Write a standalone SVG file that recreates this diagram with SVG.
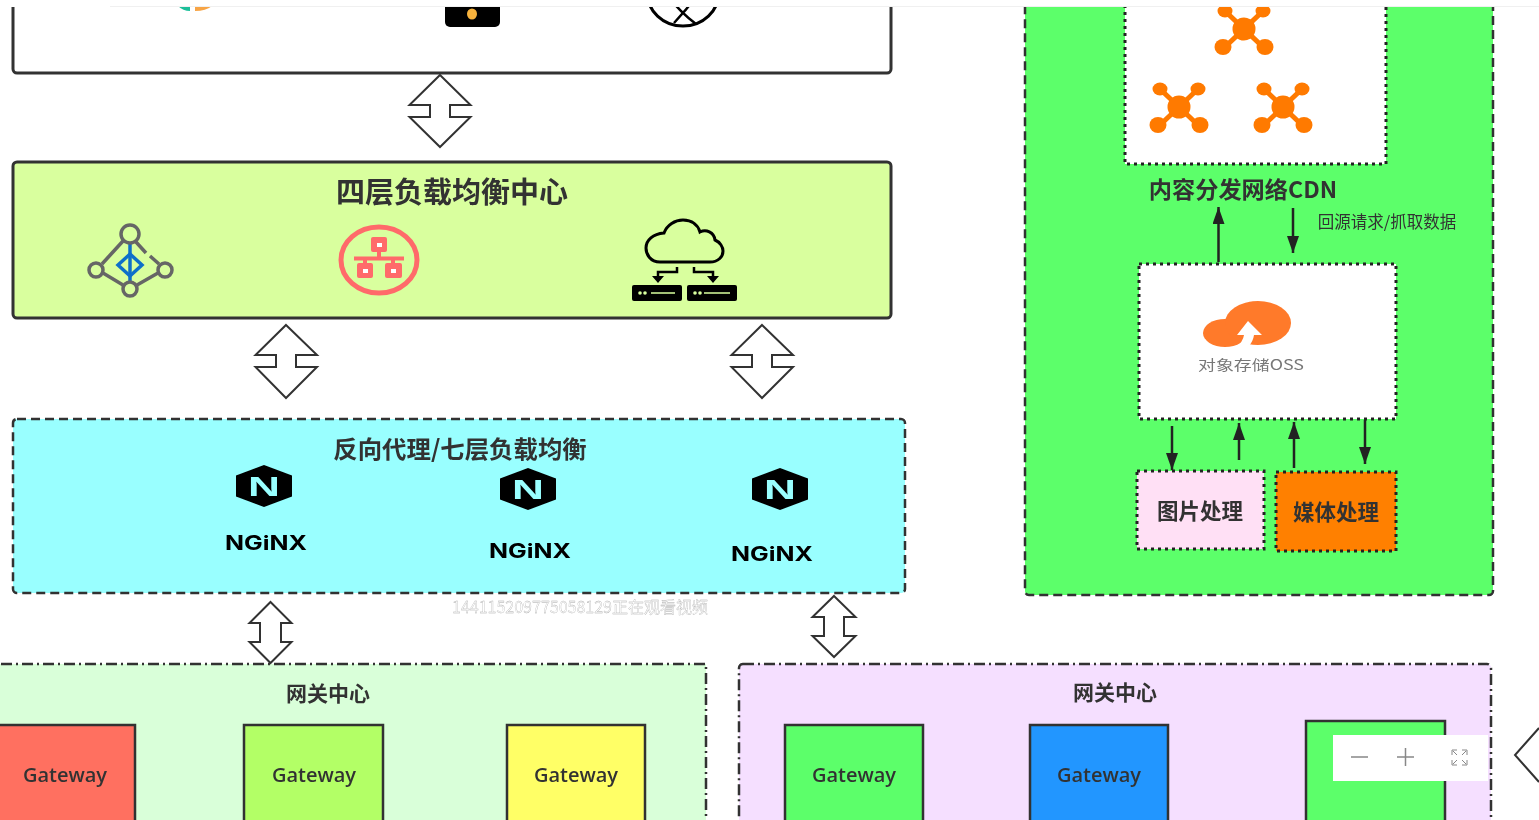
<svg xmlns="http://www.w3.org/2000/svg" width="1539" height="820" viewBox="0 0 1539 820">
<style>
text{font-family:"Noto Sans CJK SC","Noto Sans",sans-serif;fill:#333;text-anchor:middle}
.b{font-weight:700}
.box{stroke:#333;stroke-width:3}
.dash{stroke:#333;stroke-width:2.5;stroke-dasharray:9 5}
.dd{stroke:#333;stroke-width:2.5;stroke-dasharray:11 4 2 4}
.dot{stroke:#222;stroke-width:3;stroke-dasharray:3 4}
.gw{stroke:#333;stroke-width:2.5}
.gwt{font-family:"Open Sans",sans-serif;font-weight:600;font-size:20px}
.da{fill:#fff;stroke:#333;stroke-width:2;stroke-linejoin:miter}
.ln{stroke:#222;stroke-width:2.5;fill:none;marker-end:url(#ah)}
.ng{font-family:"Inter",sans-serif;font-weight:700;font-size:20px;fill:#000}
.nn{font-family:"Liberation Sans",sans-serif;font-weight:700;font-size:28px;fill:#99FFFF}
.or{fill:#FF7A00}
</style>
<defs>
<marker id="ah" markerUnits="userSpaceOnUse" markerWidth="17" markerHeight="12" refX="17" refY="6" orient="auto" viewBox="0 0 17 12"><path d="M0 0L17 6L0 12Z" fill="#222"/></marker>
<filter id="soft" filterUnits="userSpaceOnUse" x="0" y="0" width="1539" height="820"><feGaussianBlur stdDeviation="0.4"/></filter>
<g id="cdnNode">
<path d="M-19-18L19 18M19-18L-19 18" stroke="#FF7A00" stroke-width="5"/>
<circle r="11.5" class="or"/><ellipse cx="-19" cy="-18" rx="7.5" ry="6.500" class="or"/><ellipse cx="19" cy="-18" rx="7.5" ry="6.500" class="or"/><ellipse cx="-21" cy="18" rx="8.5" ry="8" class="or"/><ellipse cx="21" cy="18" rx="8.5" ry="8" class="or"/>
</g>
<g id="nginxLogo">
<polygon points="0,-21 28,-10.5 28,10.5 0,21 -28,10.5 -28,-10.5" fill="#000"/>
<text y="10" class="nn" textLength="32" lengthAdjust="spacingAndGlyphs">N</text>
</g>
</defs>
<g filter="url(#soft)">
<rect width="1539" height="820" fill="#fff"/>

<g id="top-box">
<rect x="13" y="-60" width="878" height="133" rx="4" fill="#fff" class="box"/>
<path d="M178 6Q183 11 190 11L190 6Z" fill="#1DBF9A"/><path d="M195 11Q206 11 212 6L195 6Z" fill="#F7A445"/>
<path d="M445 0H500V22a5 5 0 0 1-5 5H450a5 5 0 0 1-5-5Z" fill="#000"/><ellipse cx="472" cy="14" rx="5" ry="5.500" fill="#F7B23C"/>
<ellipse cx="683" cy="-8" rx="36" ry="34" fill="#fff" stroke="#000" stroke-width="3"/><path d="M668 -4Q680 12 696 24M697 -4Q686 10 674 23" fill="none" stroke="#000" stroke-width="2.5"/>
</g>

<g id="l4-center">
<rect x="13" y="162" width="878" height="156" rx="4" fill="#D9FF9E" class="box"/>
<text x="452" y="203" class="b" font-size="29">四层负载均衡中心</text>
<g id="l4-icon-a">
<path d="M123 241L102 264M136 242L146 253M150 256L159 264M103 273L123 285M158 273L137 285" stroke="#666" stroke-width="3.5" fill="none"/>
<path d="M130 244V282" stroke="#0F6FC9" stroke-width="3.5"/><path d="M130 254L142 265L130 276L118 265Z" fill="none" stroke="#0F6FC9" stroke-width="3.5"/>
<circle cx="130" cy="234" r="9" fill="#D9FF9E" stroke="#666" stroke-width="3.5"/><circle cx="96" cy="270" r="7" fill="#D9FF9E" stroke="#666" stroke-width="3.5"/><circle cx="165" cy="270" r="7" fill="#D9FF9E" stroke="#666" stroke-width="3.5"/><circle cx="130" cy="289" r="7" fill="#D9FF9E" stroke="#666" stroke-width="3.5"/>
</g>
<g id="l4-icon-b">
<ellipse cx="379" cy="260" rx="38" ry="33" fill="none" stroke="#FF6B6B" stroke-width="5"/>
<path d="M379 250V258M354 258.500H404M365 258V266M393 258V266" stroke="#FF6B6B" stroke-width="4" fill="none"/>
<rect x="371" y="237" width="16" height="15" rx="2" fill="#FF6B6B"/><rect x="357" y="263" width="16" height="15" rx="2" fill="#FF6B6B"/><rect x="385" y="263" width="17" height="15" rx="2" fill="#FF6B6B"/>
<rect x="377" y="243" width="5" height="4" fill="#fff"/><rect x="363" y="269" width="5" height="4" fill="#fff"/><rect x="391" y="269" width="5" height="4" fill="#fff"/>
</g>
<g id="l4-icon-c">
<path d="M660 262C650 262 646 254 646 248C646 240 653 234 664 233C667 225 675 220 683 220C692 220 698 225 700 232C706 229 714 232 715 240C720 242 723 247 723 251C723 257 718 262 710 262Z" fill="none" stroke="#000" stroke-width="3"/>
<path d="M677 267V272H658V278M694 267V272H713V278" fill="none" stroke="#000" stroke-width="2.5"/>
<path d="M652 276H664L658 283ZM707 276H719L713 283Z" fill="#000"/>
<rect x="632" y="285" width="50" height="16" rx="2" fill="#000"/><rect x="687" y="285" width="50" height="16" rx="2" fill="#000"/>
<path d="M651 293H675M704 293H730" stroke="#D9FF9E" stroke-width="1.500"/>
<circle cx="640" cy="293" r="1.800" fill="#D9FF9E"/><circle cx="645" cy="293" r="1.800" fill="#D9FF9E"/><circle cx="695" cy="293" r="1.800" fill="#D9FF9E"/><circle cx="700" cy="293" r="1.800" fill="#D9FF9E"/>
</g>
</g>

<g id="l7-proxy">
<rect x="13" y="419" width="892" height="174" rx="4" fill="#99FFFF" class="dash"/>
<text x="460" y="458" class="b" font-size="24.400">反向代理/七层负载均衡</text>
<use href="#nginxLogo" x="264" y="486"/><text x="266" y="550" class="ng" textLength="82" lengthAdjust="spacingAndGlyphs">NGiNX</text>
<use href="#nginxLogo" x="528" y="489"/><text x="530" y="558" class="ng" textLength="82" lengthAdjust="spacingAndGlyphs">NGiNX</text>
<use href="#nginxLogo" x="780" y="489"/><text x="772" y="561" class="ng" textLength="82" lengthAdjust="spacingAndGlyphs">NGiNX</text>
</g>

<g id="cdn-group">
<rect x="1025" y="-40" width="468" height="635" rx="4" fill="#5CFF6A" class="dash"/>
<g id="cdn-box"><rect x="1125" y="-40" width="261" height="204" fill="#fff" class="dot"/>
<use href="#cdnNode" x="1244" y="29"/><use href="#cdnNode" x="1179" y="107"/><use href="#cdnNode" x="1283" y="107"/></g>
<text x="1243" y="198" class="b" font-size="23.200">内容分发网络CDN</text>
<text x="1387" y="228" font-size="16.500">回源请求/抓取数据</text>
<g id="oss-box"><rect x="1139" y="264" width="257" height="155" fill="#fff" class="dot"/>
<ellipse cx="1225" cy="333" rx="22" ry="14" fill="#FF7A2A"/><ellipse cx="1258" cy="323" rx="33" ry="22" fill="#FF7A2A"/>
<path d="M1248 321L1262 335H1254Q1253 343 1246 349L1236 347Q1243 342 1244 335H1237Z" fill="#fff"/>
<text x="1251" y="370" font-size="14" textLength="106" lengthAdjust="spacingAndGlyphs" style="fill:#777">对象存储OSS</text></g>
<g id="img-proc"><rect x="1137" y="471" width="127" height="78" fill="#FFE0F5" class="dot"/><text x="1200" y="519" class="b" font-size="21.500">图片处理</text></g>
<g id="media-proc"><rect x="1276" y="472" width="120" height="79" fill="#FF8000" class="dot"/><text x="1336" y="520" class="b" font-size="21.500">媒体处理</text></g>
</g>

<g id="gateway-a">
<rect x="-20" y="664" width="726" height="190" fill="#D9FFD9" class="dd"/>
<text x="328" y="701" class="b" font-size="21">网关中心</text>
<g id="gw-a1"><rect x="-20" y="725" width="155" height="120" fill="#FF7060" class="gw"/><text x="65" y="782" class="gwt">Gateway</text></g>
<g id="gw-a2"><rect x="244" y="725" width="139" height="120" fill="#B3FF66" class="gw"/><text x="314" y="782" class="gwt">Gateway</text></g>
<g id="gw-a3"><rect x="507" y="725" width="138" height="120" fill="#FFFF66" class="gw"/><text x="576" y="782" class="gwt">Gateway</text></g>
</g>
<g id="gateway-b">
<rect x="739" y="664" width="752" height="190" rx="4" fill="#F5DFFF" class="dd"/>
<text x="1115" y="700" class="b" font-size="21">网关中心</text>
<g id="gw-b1"><rect x="785" y="725" width="138" height="120" fill="#5CFF6A" class="gw"/><text x="854" y="782" class="gwt">Gateway</text></g>
<g id="gw-b2"><rect x="1030" y="725" width="138" height="120" fill="#2196FF" class="gw"/><text x="1099" y="782" class="gwt">Gateway</text></g>
<g id="gw-b3"><rect x="1306" y="721" width="139" height="120" fill="#5CFF6A" class="gw"/></g>
</g>

<g id="connectors">
<polygon class="da" points="440,75 470.500,105 450,105 450,117 470.500,117 440,147 409.500,117 430,117 430,105 409.500,105"/>
<polygon class="da" points="286,325 317,355 296,355 296,367 317,367 286,398 255.500,367 276,367 276,355 255.500,355"/>
<polygon class="da" points="762,325 793,355 772,355 772,367 793,367 762,398 731.500,367 752,367 752,355 731.500,355"/>
<polygon class="da" points="270.500,602 291.500,623 281,623 281,642 291.500,642 270.500,663 249.500,642 260,642 260,623 249.500,623"/>
<polygon class="da" points="834,596 855.500,617 844,617 844,636 855.500,636 834,657 812.500,636 824,636 824,617 812.500,617"/>
<path d="M1539 728L1515 755L1539 782" fill="none" stroke="#333" stroke-width="2"/>
<path class="ln" d="M1218.500 262V207"/>
<path class="ln" d="M1293 208V253"/>
<path class="ln" d="M1172 426V470"/>
<path class="ln" d="M1239 460V423"/>
<path class="ln" d="M1294 468V422"/>
<path class="ln" d="M1365 420V464"/>
</g>

<text id="watermark" x="580" y="613" font-size="16" style="fill:#fff;stroke:#aaa;stroke-width:.3">144115209775058129正在观看视频</text>

<g id="zoom-controls">
<rect x="1333" y="735" width="155" height="46" fill="#fff"/>
<path d="M1351 757H1368M1397 757H1414M1405.500 748V766" stroke="#888" stroke-width="1.500" fill="none"/>
<path d="M1452 755V750H1457M1467 755V750H1462M1452 760V765H1457M1467 760V765H1462M1453 751L1457 755M1466 751L1462 755M1453 764L1457 760M1466 764L1462 760" stroke="#888" stroke-width="1" fill="none"/>
</g>

<g id="top-strip">
<rect width="1539" height="7" fill="#fff"/>
<path d="M110 6.500H1539" stroke="#F0F0F0"/>
</g>
</g>
</svg>
